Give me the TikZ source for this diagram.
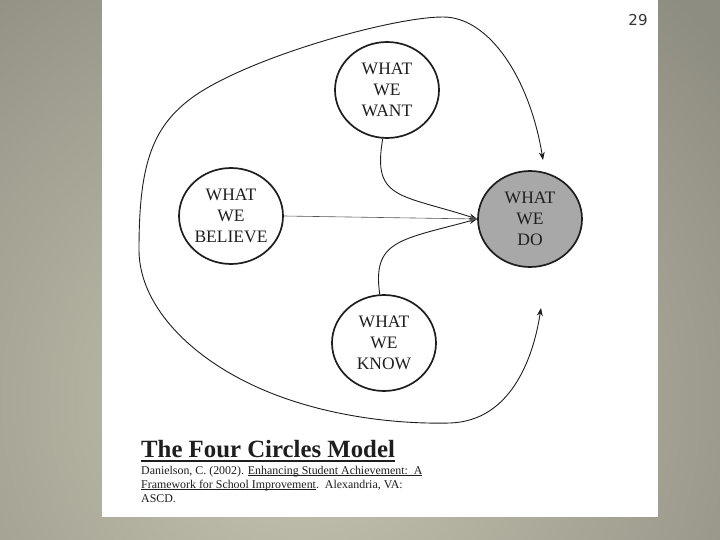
\documentclass[tikz,border=0pt]{standalone}
\usepackage{fontspec}
\setmainfont{Liberation Serif}
\newfontfamily\handfont{DejaVu Sans}
\usetikzlibrary{shapes.geometric,arrows.meta}
\definecolor{bgin}{HTML}{C8C6B2}
\definecolor{bgout}{HTML}{8E8D81}
\definecolor{ink}{HTML}{1E1E1E}
\definecolor{dofill}{HTML}{A8A8A8}
\newcommand\myul[1]{\setbox0\hbox{#1}\rlap{\rule[-1.6pt]{\wd0}{0.5pt}}\box0}
\begin{document}
\begin{tikzpicture}[x=1pt,y=-1pt,
  circ/.style={ellipse, draw=ink, line width=1.7pt, minimum width=104pt, minimum height=96pt,
    inner sep=0pt, align=center, font=\fontsize{17.5}{21}\selectfont, text=ink},
  conn/.style={draw=ink, line width=0.9pt, -{Stealth[length=8pt,width=6pt]}},
  thinconn/.style={draw=ink!75, line width=0.6pt, -{Stealth[length=8pt,width=6pt]}},
  loopconn/.style={draw=ink, line width=0.9pt, {Stealth[length=8pt,width=6pt]}-{Stealth[length=8pt,width=6pt]}},
  cite/.style={anchor=base west, inner sep=0pt, font=\fontsize{11.9}{14}\selectfont, text=ink}
]
\useasboundingbox (0,0) rectangle (720,540);
% background
\begin{scope}
  \clip (0,0) rectangle (720,540);
  \shade[inner color=bgin, outer color=bgout] (-250,-150) rectangle (850,950);
\end{scope}
\fill[white] (102,0) rectangle (658,517);

% circles
\node[circ] (want) at (387,90) {WHAT\\WE\\WANT};
\node[circ] (believe) at (231,216) {WHAT\\WE\\BELIEVE};
\node[circ, fill=dofill] (do) at (530,219) {WHAT\\WE\\DO};
\node[circ] (know) at (384,343) {WHAT\\WE\\KNOW};

% connectors into WHAT WE DO
\draw[conn] (want.265) .. controls (372,200) and (400,194) .. (do.west);
\draw[conn] (know.95) .. controls (372,240) and (400,240) .. (do.west);
\draw[thinconn] (believe.east) -- (do.west);

% big loop
\coordinate (topend) at (543,160);
\coordinate (botend) at (541,308);
\draw[loopconn] (topend) .. controls (530,80) and (490,17) .. (443,17)
  .. controls (390,17) and (240,60) .. (189,100)
  .. controls (150,130) and (139,170) .. (139,250)
  .. controls (139,310) and (200,370) .. (290,400)
  .. controls (350,420) and (410,424) .. (450,423)
  .. controls (510,421) and (533,360) .. (botend);

% title and citation
\node[anchor=base west, inner sep=0pt, font=\fontsize{24.8}{28}\selectfont\bfseries, text=ink]
  (title) at (141,457) {The Four Circles Model};
\draw[ink, line width=1.8pt] ([yshift=-4pt]title.base west) -- ([yshift=-4pt]title.base east);
\node[cite] (cite1) at (141,474) {Danielson, C. (2002). \myul{Enhancing Student Achievement:\ \ A}};
\node[cite] (cite2) at (141,488) {\myul{Framework for School Improvement}.\ \ Alexandria, VA:};
\node[cite] (cite3) at (141,502) {ASCD.};

% page number
\node[font=\handfont\fontsize{15}{15}\selectfont, text=ink!90] (pagenum) at (638,20) {29};
\end{tikzpicture}
\end{document}
